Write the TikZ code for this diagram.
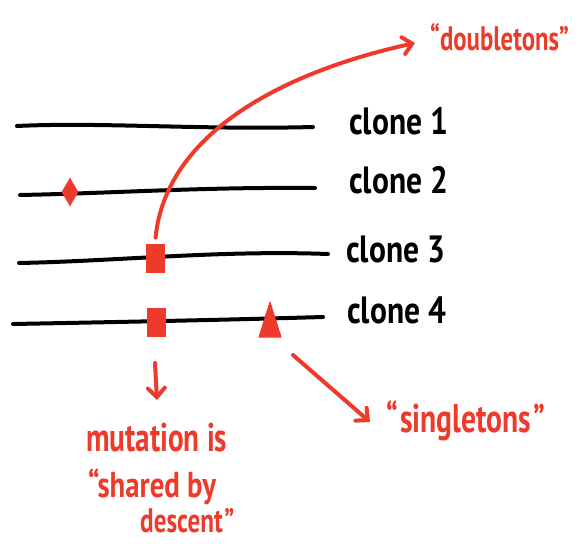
\documentclass[tikz,border=0pt]{standalone}
\usepackage{fontspec}
\setmainfont{PT Sans}
\usetikzlibrary{arrows.meta,shapes.geometric}
\definecolor{mred}{HTML}{EE3A2A}
\newcommand{\handw}[2]{\scalebox{#1}[1]{#2}}
\begin{document}
\begin{tikzpicture}[x=1pt,y=-1pt,
  cloneline/.style={line width=4pt, line cap=round, black},
  lab/.style={font=\fontsize{38}{40}\bfseries, inner sep=0pt, anchor=base west},
  rlab/.style={inner sep=0pt, text=mred, anchor=base west},
  rarrow/.style={draw=mred, line width=4pt, line cap=round, -{Straight Barb[length=9pt,width=17pt,line cap=round]}},
  mutmark/.style={fill=mred, draw=mred, line width=1pt, inner sep=0pt}]
\useasboundingbox (0,0) rectangle (577,543);

% clone lines
\draw[cloneline] (17,126) .. controls (100,122) and (200,130) .. (313,127);
\draw[cloneline] (20,195) .. controls (120,193) and (200,187) .. (315,188);
\draw[cloneline] (19,263) .. controls (120,261) and (220,250) .. (328,254);
\draw[cloneline] (13,324) .. controls (120,322) and (220,320) .. (323,317);

% labels
\node[lab] (c1) at (349,134) {\handw{0.83}{clone 1}};
\node[lab] (c2) at (349,193) {\handw{0.83}{clone 2}};
\node[lab] (c3) at (346,262) {\handw{0.83}{clone 3}};
\node[lab] (c4) at (347,323) {\handw{0.83}{clone 4}};

% markers
\node[mutmark, diamond, minimum width=16pt, minimum height=27pt] (dia) at (70,192) {};
\node[mutmark, rectangle, minimum width=18pt, minimum height=28pt] (sq3) at (155,258) {};
\node[mutmark, rectangle, minimum width=18pt, minimum height=28pt] (sq4) at (156,322) {};
\draw[mutmark, line join=round] (270,302) -- (281,337) -- (259,337) -- cycle;

% red labels
\node[rlab, font=\fontsize{34}{36}\bfseries] (dbl) at (430,50) {\handw{0.73}{``doubletons''}};
\node[rlab, font=\fontsize{40}{42}\bfseries] (sing) at (386,432) {\handw{0.74}{``\hspace{3pt}singletons\hspace{3pt}''}};
\node[rlab, font=\fontsize{40}{42}\bfseries] (mut) at (86,451) {\handw{0.73}{mutation is}};
\node[rlab, font=\fontsize{36}{38}\bfseries] (shared) at (88,497) {\handw{0.8}{``shared by}};
\node[rlab, font=\fontsize{34}{36}\bfseries] (desc) at (140,532) {\handw{0.74}{descent\hspace{2pt}''}};

% arrows
\coordinate (a1e) at (415,43);
\draw[rarrow, shorten <=6pt] (sq3.north) .. controls (165,140) and (270,75) .. (a1e);
\coordinate (a2s) at (155,363);
\coordinate (a2e) at (157,400);
\draw[rarrow] (a2s) -- (a2e);
\coordinate (a3s) at (293,355);
\coordinate (a3e) at (370,422);
\draw[rarrow] (a3s) -- (a3e);
\end{tikzpicture}
\end{document}
